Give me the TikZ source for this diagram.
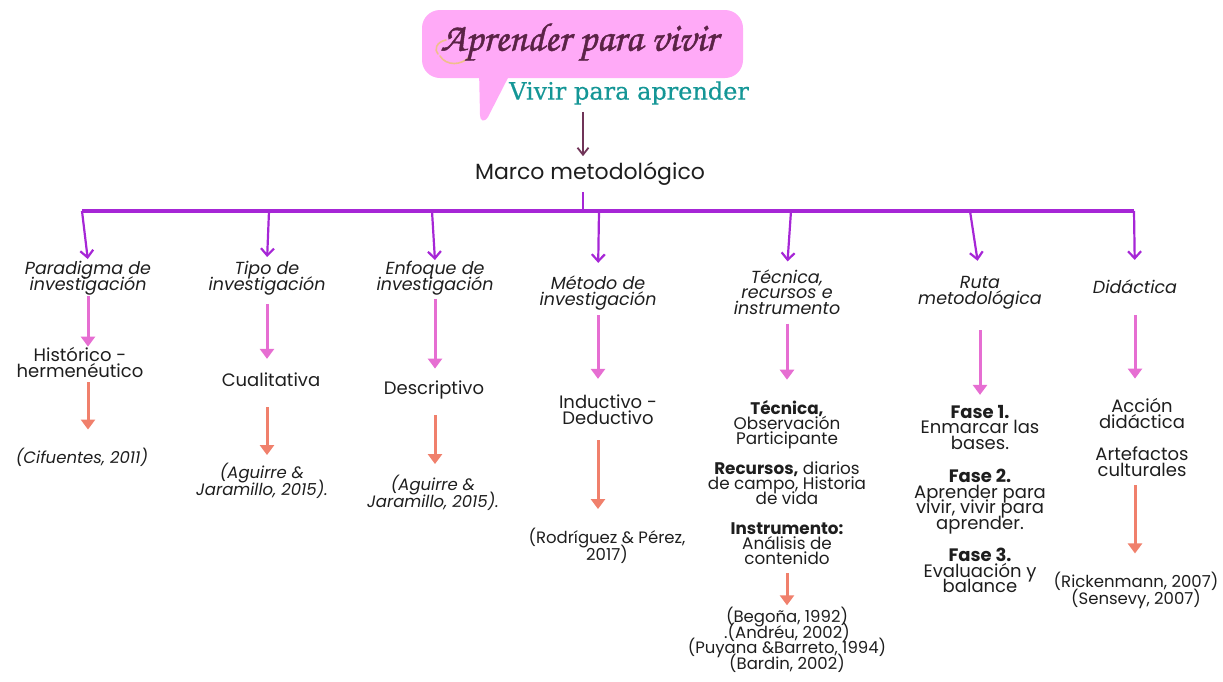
\documentclass[tikz,border=0pt]{standalone}
\usepackage{fontspec}
\setmainfont{Poppins}
\newfontfamily\slabf{DejaVu Serif}[FakeBold=0.5]
\IfFontExistsTF{texgyrechorus-mediumitalic.otf}%
  {\newfontfamily\scriptf{texgyrechorus-mediumitalic.otf}[FakeBold=1.2]\def\titlesize{40}}%
  {\newcommand\scriptf{\itshape}\def\titlesize{33}}
\usetikzlibrary{arrows.meta}
\newcommand\tightlines{\lineskiplimit=-30pt\lineskip=0pt}
\definecolor{purp}{RGB}{166,38,214}
\definecolor{pinkA}{RGB}{230,110,210}
\definecolor{salm}{RGB}{240,128,108}
\definecolor{maroon}{RGB}{112,52,88}
\definecolor{tealc}{RGB}{20,150,150}
\definecolor{titlec}{RGB}{90,35,70}
\definecolor{bubble}{RGB}{255,170,247}
\definecolor{txt}{RGB}{30,30,30}
\definecolor{smile}{RGB}{240,190,140}
\tikzset{
  cat/.style={font=\fontsize{17.5}{15.5}\selectfont\itshape\tightlines, align=center, inner sep=0pt, text=txt},
  val/.style={font=\fontsize{18}{16}\selectfont\tightlines, align=center, inner sep=0pt, text=txt},
  blk/.style={font=\fontsize{16.8}{15}\selectfont\tightlines, align=center, inner sep=0pt, text=txt},
  fas/.style={font=\fontsize{18}{15.5}\selectfont\tightlines, align=center, inner sep=0pt, text=txt},
  cit/.style={font=\fontsize{16.5}{17}\selectfont\itshape\tightlines, align=center, inner sep=0pt, text=txt},
  citr/.style={font=\fontsize{16.5}{17}\selectfont\tightlines, align=center, inner sep=0pt, text=txt},
  bus/.style={draw=purp, line width=3.2pt},
  parr/.style={draw=purp, line width=2.2pt, -{Straight Barb[length=7pt,width=13pt]}},
  pa/.style={draw=pinkA, line width=3pt, -{Triangle[length=10pt,width=14pt]}},
  sa/.style={draw=salm, line width=3pt, -{Triangle[length=10pt,width=14pt]}},
  marr/.style={draw=maroon, line width=1.8pt, -{Straight Barb[length=7pt,width=11pt]}},
}
\begin{document}
\begin{tikzpicture}[x=1pt,y=-1pt]
\useasboundingbox (0,0) rectangle (1223,681);
% speech bubble
\fill[bubble, rounded corners=18pt] (422,10) rectangle (743,78);
\fill[bubble] (479,70) -- (480,115) .. controls (480,121) and (484,123) .. (488,117) -- (512,70) -- cycle;
\draw[smile, line width=1.6pt, line cap=round] (446,40) .. controls (436,42) and (434,50) .. (438,54);
\draw[smile, line width=1.6pt, line cap=round] (440,56) .. controls (446,66) and (462,66) .. (470,56);
\node[font=\fontsize{\titlesize}{\titlesize}\scriptf, text=titlec, inner sep=0pt] (title) at (579,42) {Aprender para vivir};
\node[font=\fontsize{24}{24}\slabf, text=tealc, inner sep=0pt] (teal) at (629,93) {Vivir para aprender};
\node[font=\fontsize{22}{22}\selectfont, text=txt, inner sep=0pt] (marco) at (590,174) {Marco metodológico};
% bus
\coordinate (hub) at (583,211);
\coordinate (b1) at (82,211);
\coordinate (b2) at (269,211);
\coordinate (b3) at (432,211);
\coordinate (b4) at (599,211);
\coordinate (b5) at (791,211);
\coordinate (b6) at (970,211);
\coordinate (b7) at (1134,211);
\draw[marr, shorten <=7pt, shorten >=6pt] (teal.south -| hub) -- (marco.north -| hub);
\draw[draw=purp, line width=2.6pt, shorten <=6pt] (marco.south -| hub) -- (hub);
\draw[bus] (b1) -- (b7);
% top nodes
\node[cat] (par) at (88,278) {Paradigma de\\investigación};
\node[cat] (tipo) at (267,278) {Tipo de\\investigación};
\node[cat] (enf) at (435,278) {Enfoque de\\investigación};
\node[cat] (met) at (598,293) {Método de\\investigación};
\node[cat] (tec) at (787,292) {Técnica,\\recursos e\\instrumento};
\node[cat] (ruta) at (980,293) {Ruta\\metodológica};
\node[cat] (did) at (1135,287) {Didáctica};
\draw[parr, shorten >=2pt] (b1) -- (par.north);
\draw[parr, shorten >=4pt] (b2) -- (tipo.north);
\draw[parr, shorten >=1pt] (b3) -- (enf.north);
\draw[parr, shorten >=13pt] (b4) -- (met.north);
\draw[parr, shorten >=8pt] (b5) -- (tec.north);
\draw[parr, shorten >=16pt] (b6) -- (ruta.north);
\draw[parr, shorten >=20pt] (b7) -- (did.north);
% second row
\node[val] (hist) at (80,362) {Histórico -\\hermenéutico};
\node[val] (cual) at (271,380) {Cualitativa};
\node[val] (desc) at (434,390) {Descriptivo};
\node[val] (ind) at (608,410) {Inductivo -\\Deductivo};
\node[blk] (tecb) at (787,483) {\textbf{Técnica,}\\Observación\\Participante\\[15pt]\textbf{Recursos,} diarios\\de campo, Historia\\de vida\\[15pt]\textbf{Instrumento:}\\Análisis de\\contenido};
\node[fas] (fases) at (980,499) {\textbf{Fase 1.}\\Enmarcar las\\bases.\\[18pt]\textbf{Fase 2.}\\Aprender para\\vivir, vivir para\\aprender.\\[17pt]\textbf{Fase 3.}\\Evaluación y\\balance};
\node[val] (acc) at (1142,413) {Acción\\didáctica};
\node[val] (art) at (1142,462) {Artefactos\\culturales};
% citations
\node[cit] (cif) at (82,457) {(Cifuentes, 2011)};
\node[cit] (agu1) at (262,481) {(Aguirre \&\\Jaramillo, 2015).};
\node[cit] (agu2) at (433,493) {(Aguirre \&\\Jaramillo, 2015).};
\node[citr] (rod) at (607,546) {(Rodríguez \& Pérez,\\2017)};
\node[citr, font=\fontsize{16.5}{15.5}\selectfont\tightlines] (beg) at (787,640) {(Begoña, 1992)\\.(Andréu, 2002)\\(Puyana \&Barreto, 1994)\\(Bardin, 2002)};
\node[citr] (ric) at (1136,590) {(Rickenmann, 2007)\\(Sensevy, 2007)};
% pink arrows
\draw[pa, shorten <=1pt, shorten >=0pt] (par.south) -- (par.south |- hist.north);
\draw[pa, shorten <=9pt, shorten >=14pt] (tipo.south) -- (tipo.south |- cual.north);
\draw[pa, shorten <=4pt, shorten >=12pt] (enf.south) -- (enf.south |- desc.north);
\draw[pa, shorten <=5pt, shorten >=16pt] (met.south) -- (met.south |- ind.north);
\draw[pa, shorten <=9pt, shorten >=21pt] (tec.south) -- (tec.south |- tecb.north);
\draw[pa, shorten <=21pt, shorten >=10pt] (ruta.south) -- (ruta.south |- fases.north);
\draw[pa, shorten <=21pt, shorten >=19pt] (did.south) -- (did.south |- acc.north);
% salmon arrows
\draw[sa, shorten <=5pt, shorten >=18pt] (hist.south -| par.south) -- (cif.north -| par.south);
\draw[sa, shorten <=20pt, shorten >=8pt] (cual.south -| tipo.south) -- (agu1.north -| tipo.south);
\draw[sa, shorten <=16pt, shorten >=11pt] (desc.south -| enf.south) -- (agu2.north -| enf.south);
\draw[sa, shorten <=15pt, shorten >=19pt] (ind.south -| met.south) -- (rod.north -| met.south);
\draw[sa, shorten <=8pt, shorten >=2pt] (tecb.south) -- (tecb.south |- beg.north);
\draw[sa, shorten <=8pt, shorten >=18pt] (art.south -| did.south) -- (ric.north -| did.south);
\end{tikzpicture}
\end{document}
